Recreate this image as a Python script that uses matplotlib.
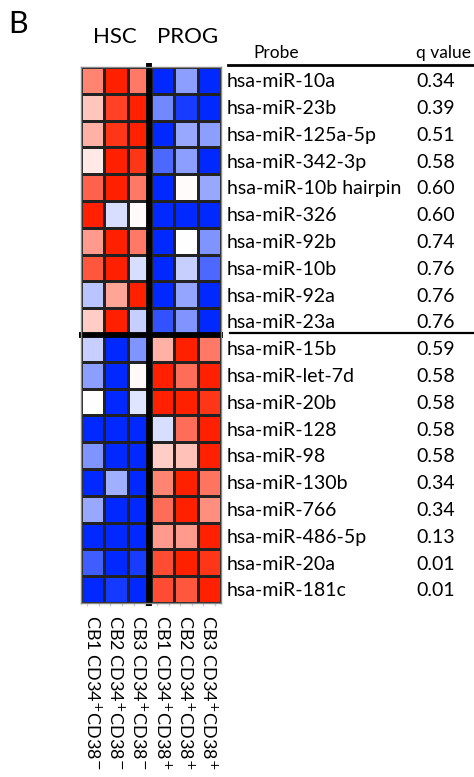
import matplotlib
matplotlib.use("Agg")
import matplotlib.pyplot as plt
import numpy as np
from matplotlib.colors import LinearSegmentedColormap
from matplotlib.transforms import blended_transform_factory

plt.rcParams['font.family'] = ['Lato', 'DejaVu Sans']

# probes, top block up in HSC, bottom block up in PROG
probes = ["hsa-miR-10a", "hsa-miR-23b", "hsa-miR-125a-5p", "hsa-miR-342-3p",
          "hsa-miR-10b hairpin", "hsa-miR-326", "hsa-miR-92b", "hsa-miR-10b",
          "hsa-miR-92a", "hsa-miR-23a",
          "hsa-miR-15b", "hsa-miR-let-7d", "hsa-miR-20b", "hsa-miR-128",
          "hsa-miR-98", "hsa-miR-130b", "hsa-miR-766", "hsa-miR-486-5p",
          "hsa-miR-20a", "hsa-miR-181c"]
qvals = ["0.34", "0.39", "0.51", "0.58", "0.60", "0.60", "0.74", "0.76", "0.76", "0.76",
         "0.59", "0.58", "0.58", "0.58", "0.58", "0.34", "0.34", "0.13", "0.01", "0.01"]

samples = [r"CB1 CD34$^{+}$CD38$^{-}$", r"CB2 CD34$^{+}$CD38$^{-}$", r"CB3 CD34$^{+}$CD38$^{-}$",
           r"CB1 CD34$^{+}$CD38$^{+}$", r"CB2 CD34$^{+}$CD38$^{+}$", r"CB3 CD34$^{+}$CD38$^{+}$"]
groups = ["HSC", "PROG"]

# row-scaled expression, -1 (blue) .. +1 (red)
hsc = np.array([
    [0.55, 1.00, 0.60],
    [0.25, 0.85, 1.00],
    [0.35, 0.90, 1.00],
    [0.10, 1.00, 0.90],
    [0.70, 1.00, 0.60],
    [1.00, -0.15, 0.02],
    [0.45, 1.00, 0.60],
    [0.75, 1.00, -0.15],
    [-0.27, 0.40, 1.00],
    [0.22, 1.00, -0.22],
    [-0.22, -1.00, -0.50],
    [-0.45, -1.00, 0.03],
    [0.00, -1.00, -0.12],
    [-1.00, -1.00, -1.00],
    [-0.50, -1.00, -1.00],
    [-1.00, -0.37, -1.00],
    [-0.40, -1.00, -1.00],
    [-1.00, -1.00, -1.00],
    [-0.75, -1.00, -0.90],
    [-1.00, -0.92, -1.00],
])
prog = np.array([
    [-1.00, -0.45, -1.00],
    [-0.55, -0.90, -1.00],
    [-1.00, -0.40, -0.45],
    [-0.70, -0.45, -1.00],
    [-1.00, 0.02, -0.40],
    [-1.00, -1.00, -1.00],
    [-1.00, 0.00, -0.50],
    [-1.00, -0.22, -0.70],
    [-1.00, -0.42, -1.00],
    [-0.80, -0.50, -1.00],
    [0.35, 1.00, 0.60],
    [1.00, 0.65, 1.00],
    [1.00, 1.00, 0.90],
    [-0.15, 0.65, 1.00],
    [0.22, 0.28, 1.00],
    [0.55, 1.00, 0.62],
    [0.65, 1.00, 0.50],
    [0.45, 0.45, 1.00],
    [0.80, 1.00, 0.90],
    [0.80, 0.75, 1.00],
])
expr = np.hstack([hsc, prog])
n_rows, n_cols = expr.shape

cmap = LinearSegmentedColormap.from_list("bwr2", ["#0028ff", "#ffffff", "#ff2000"])

W, H = 474, 777
fig = plt.figure(figsize=(W / 100, H / 100), dpi=100)
ax = fig.add_axes([81 / W, (H - 603) / H, 140 / W, 536 / H])

ax.pcolormesh(np.arange(n_cols + 1), np.arange(n_rows + 1), expr, cmap=cmap,
              vmin=-1, vmax=1, edgecolors="#222222", linewidth=0.8)
ax.set_xlim(0, n_cols)
ax.set_ylim(n_rows, 0)
for s in ax.spines.values():
    s.set_color("#888888")
    s.set_linewidth(1.0)
ax.set_yticks([])
ax.set_xticks(np.arange(0.25, n_cols, 0.5))
ax.tick_params(axis="x", length=2, color="#cccccc", width=1, labelbottom=False)

# group separators
ax.plot([2.93, 2.93], [-0.15, n_rows + 0.12], color="black", lw=4.2,
        solid_capstyle="butt", clip_on=False)
ax.plot([-0.1, n_cols + 0.1], [10, 10], color="black", lw=4.2,
        solid_capstyle="butt", clip_on=False)

# sample labels
for j, lab in enumerate(samples):
    ax.text(j + 0.5, n_rows + 0.45, lab, rotation=270, ha="center", va="top",
            fontsize=13)

# group headers
ax.text(1.45, -0.75, groups[0], ha="center", va="bottom", fontsize=16)
ax.text(4.55, -0.75, groups[1], ha="center", va="bottom", fontsize=16)
fig.text(8 / W, 1 - 33 / H, "B", fontsize=22, ha="left", va="baseline")

# probe table
tr = blended_transform_factory(fig.transFigure, ax.transData)
fig.text(253 / W, 1 - 58 / H, "Probe", fontsize=12.5, ha="left", va="baseline")
fig.text(471 / W, 1 - 58 / H, "q value", fontsize=12.5, ha="right", va="baseline")
for i, (p, q) in enumerate(zip(probes, qvals)):
    ax.text(227 / W, i + 0.55, p, transform=tr, ha="left", va="center", fontsize=14)
    ax.text(455 / W, i + 0.55, q, transform=tr, ha="right", va="center", fontsize=14)

fig.add_artist(plt.Line2D([228 / W, 473 / W], [1 - 65 / H, 1 - 65 / H], color="black", lw=2))
fig.add_artist(plt.Line2D([230 / W, 474 / W], [1 - 333 / H, 1 - 333 / H], color="black", lw=1.6))

fig.savefig("out.png", dpi=100)
